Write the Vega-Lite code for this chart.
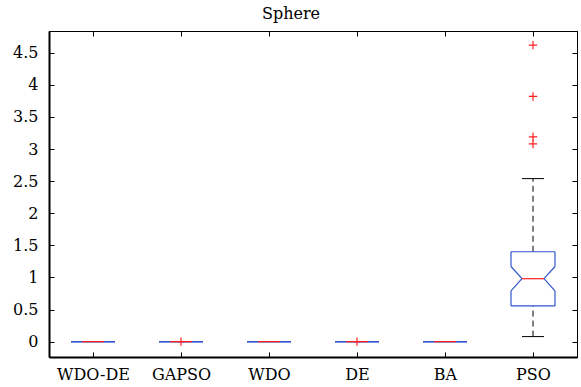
{
  "$schema": "https://vega.github.io/schema/vega-lite/v6.json",
  "width": 528,
  "height": 326,
  "autosize": {"type": "none"},
  "padding": {"left": 49, "top": 31, "right": 4, "bottom": 30},
  "background": "white",
  "title": {"text": "Sphere", "font": "DejaVu Serif", "fontSize": 16, "fontWeight": "normal", "color": "black", "offset": 9, "anchor": "middle", "dx": -22},
  "config": {
    "view": {"stroke": "black", "strokeWidth": 1},
    "axis": {"grid": false, "labelFont": "DejaVu Serif", "labelFontSize": 16, "labelColor": "black", "domainColor": "black", "tickColor": "black", "title": null, "labelFlush": false, "labelOverlap": false}
  },
  "datasets": {
    "boxes": [
      {"pos": 1, "name": "WDO-DE", "lo": 0, "q1": 0, "notchLo": 0, "median": 0, "notchHi": 0, "q3": 0, "hi": 0},
      {"pos": 2, "name": "GAPSO", "lo": 0, "q1": 0, "notchLo": 0, "median": 0, "notchHi": 0, "q3": 0, "hi": 0},
      {"pos": 3, "name": "WDO", "lo": 0, "q1": 0, "notchLo": 0, "median": 0, "notchHi": 0, "q3": 0, "hi": 0},
      {"pos": 4, "name": "DE", "lo": 0, "q1": 0, "notchLo": 0, "median": 0, "notchHi": 0, "q3": 0, "hi": 0},
      {"pos": 5, "name": "BA", "lo": 0, "q1": 0, "notchLo": 0, "median": 0, "notchHi": 0, "q3": 0, "hi": 0},
      {"pos": 6, "name": "PSO", "lo": 0.078, "q1": 0.556, "notchLo": 0.79, "median": 0.98, "notchHi": 1.17, "q3": 1.40, "hi": 2.54}
    ],
    "outliers": [
      {"pos": 2, "value": 0},
      {"pos": 4, "value": 0},
      {"pos": 6, "value": 4.62},
      {"pos": 6, "value": 3.82},
      {"pos": 6, "value": 3.19},
      {"pos": 6, "value": 3.08}
    ]
  },
  "encoding": {
    "x": {"field": "pos", "type": "quantitative", "axis": null, "scale": {"domain": [0.5, 6.5], "nice": false, "zero": false}},
    "y": {"type": "quantitative", "axis": null, "scale": {"domain": [-0.24, 4.84], "nice": false, "zero": false}}
  },
  "layer": [
    {
      "data": {"name": "boxes"},
      "mark": {"type": "rule", "color": "black", "strokeDash": [6, 4], "strokeWidth": 1},
      "encoding": {
        "x": {"field": "pos", "type": "quantitative", "axis": {"orient": "bottom", "values": [1, 2, 3, 4, 5, 6], "labelExpr": "['WDO-DE','GAPSO','WDO','DE','BA','PSO'][datum.value-1]", "tickSize": -5, "tickWidth": 1, "labelPadding": 14, "domainWidth": 2}},
        "y": {"field": "q3", "type": "quantitative", "axis": {"orient": "left", "values": [0, 0.5, 1, 1.5, 2, 2.5, 3, 3.5, 4, 4.5], "format": "~g", "tickSize": -5, "tickWidth": 1, "labelPadding": 16, "domainWidth": 2}},
        "y2": {"field": "hi"}
      }
    },
    {
      "data": {"name": "boxes"},
      "mark": {"type": "rule", "color": "black", "strokeDash": [6, 4], "strokeWidth": 1},
      "encoding": {
        "x": {"field": "pos", "type": "quantitative", "axis": {"orient": "top", "values": [1, 2, 3, 4, 5, 6], "labels": false, "tickSize": -5, "tickWidth": 1, "domainWidth": 1}},
        "y": {"field": "lo", "type": "quantitative", "axis": {"orient": "right", "values": [0, 0.5, 1, 1.5, 2, 2.5, 3, 3.5, 4, 4.5], "labels": false, "tickSize": -5, "tickWidth": 1, "domainWidth": 1}},
        "y2": {"field": "q1"}
      }
    },
    {
      "data": {"name": "boxes"},
      "mark": {"type": "rule", "color": "black", "strokeWidth": 1, "xOffset": -11, "x2Offset": 11},
      "encoding": {"x2": {"field": "pos"}, "y": {"field": "hi", "type": "quantitative", "axis": null}}
    },
    {
      "data": {"name": "boxes"},
      "mark": {"type": "rule", "color": "black", "strokeWidth": 1, "xOffset": -11, "x2Offset": 11},
      "encoding": {"x2": {"field": "pos"}, "y": {"field": "lo", "type": "quantitative", "axis": null}}
    },
    {
      "data": {"name": "boxes"},
      "mark": {"type": "rule", "color": "#2f55cc", "strokeWidth": 1.2, "xOffset": -22, "x2Offset": 22},
      "encoding": {"x2": {"field": "pos"}, "y": {"field": "q3", "type": "quantitative", "axis": null}}
    },
    {
      "data": {"name": "boxes"},
      "mark": {"type": "rule", "color": "#2f55cc", "strokeWidth": 1.2, "xOffset": -22, "x2Offset": 22},
      "encoding": {"x2": {"field": "pos"}, "y": {"field": "q1", "type": "quantitative", "axis": null}}
    },
    {
      "data": {"name": "boxes"},
      "mark": {"type": "rule", "color": "#2f55cc", "strokeWidth": 1.2, "xOffset": -22, "x2Offset": -22},
      "encoding": {"x2": {"field": "pos"}, "y": {"field": "q3", "type": "quantitative", "axis": null}, "y2": {"field": "notchHi"}}
    },
    {
      "data": {"name": "boxes"},
      "mark": {"type": "rule", "color": "#2f55cc", "strokeWidth": 1.2, "xOffset": -22, "x2Offset": -11},
      "encoding": {"x2": {"field": "pos"}, "y": {"field": "notchHi", "type": "quantitative", "axis": null}, "y2": {"field": "median"}}
    },
    {
      "data": {"name": "boxes"},
      "mark": {"type": "rule", "color": "#2f55cc", "strokeWidth": 1.2, "xOffset": -11, "x2Offset": -22},
      "encoding": {"x2": {"field": "pos"}, "y": {"field": "median", "type": "quantitative", "axis": null}, "y2": {"field": "notchLo"}}
    },
    {
      "data": {"name": "boxes"},
      "mark": {"type": "rule", "color": "#2f55cc", "strokeWidth": 1.2, "xOffset": -22, "x2Offset": -22},
      "encoding": {"x2": {"field": "pos"}, "y": {"field": "notchLo", "type": "quantitative", "axis": null}, "y2": {"field": "q1"}}
    },
    {
      "data": {"name": "boxes"},
      "mark": {"type": "rule", "color": "#2f55cc", "strokeWidth": 1.2, "xOffset": 22, "x2Offset": 22},
      "encoding": {"x2": {"field": "pos"}, "y": {"field": "q3", "type": "quantitative", "axis": null}, "y2": {"field": "notchHi"}}
    },
    {
      "data": {"name": "boxes"},
      "mark": {"type": "rule", "color": "#2f55cc", "strokeWidth": 1.2, "xOffset": 22, "x2Offset": 11},
      "encoding": {"x2": {"field": "pos"}, "y": {"field": "notchHi", "type": "quantitative", "axis": null}, "y2": {"field": "median"}}
    },
    {
      "data": {"name": "boxes"},
      "mark": {"type": "rule", "color": "#2f55cc", "strokeWidth": 1.2, "xOffset": 11, "x2Offset": 22},
      "encoding": {"x2": {"field": "pos"}, "y": {"field": "median", "type": "quantitative", "axis": null}, "y2": {"field": "notchLo"}}
    },
    {
      "data": {"name": "boxes"},
      "mark": {"type": "rule", "color": "#2f55cc", "strokeWidth": 1.2, "xOffset": 22, "x2Offset": 22},
      "encoding": {"x2": {"field": "pos"}, "y": {"field": "notchLo", "type": "quantitative", "axis": null}, "y2": {"field": "q1"}}
    },
    {
      "data": {"name": "boxes"},
      "mark": {"type": "rule", "color": "#ff2020", "strokeWidth": 1.2, "xOffset": -11, "x2Offset": 11},
      "encoding": {"x2": {"field": "pos"}, "y": {"field": "median", "type": "quantitative", "axis": null}}
    },
    {
      "data": {"name": "outliers"},
      "mark": {"type": "point", "shape": "M-1,0H1M0,-1V1", "filled": false, "color": "#ff2020", "strokeWidth": 1.2, "size": 70, "opacity": 1},
      "encoding": {"y": {"field": "value", "type": "quantitative", "axis": null}}
    }
  ]
}
